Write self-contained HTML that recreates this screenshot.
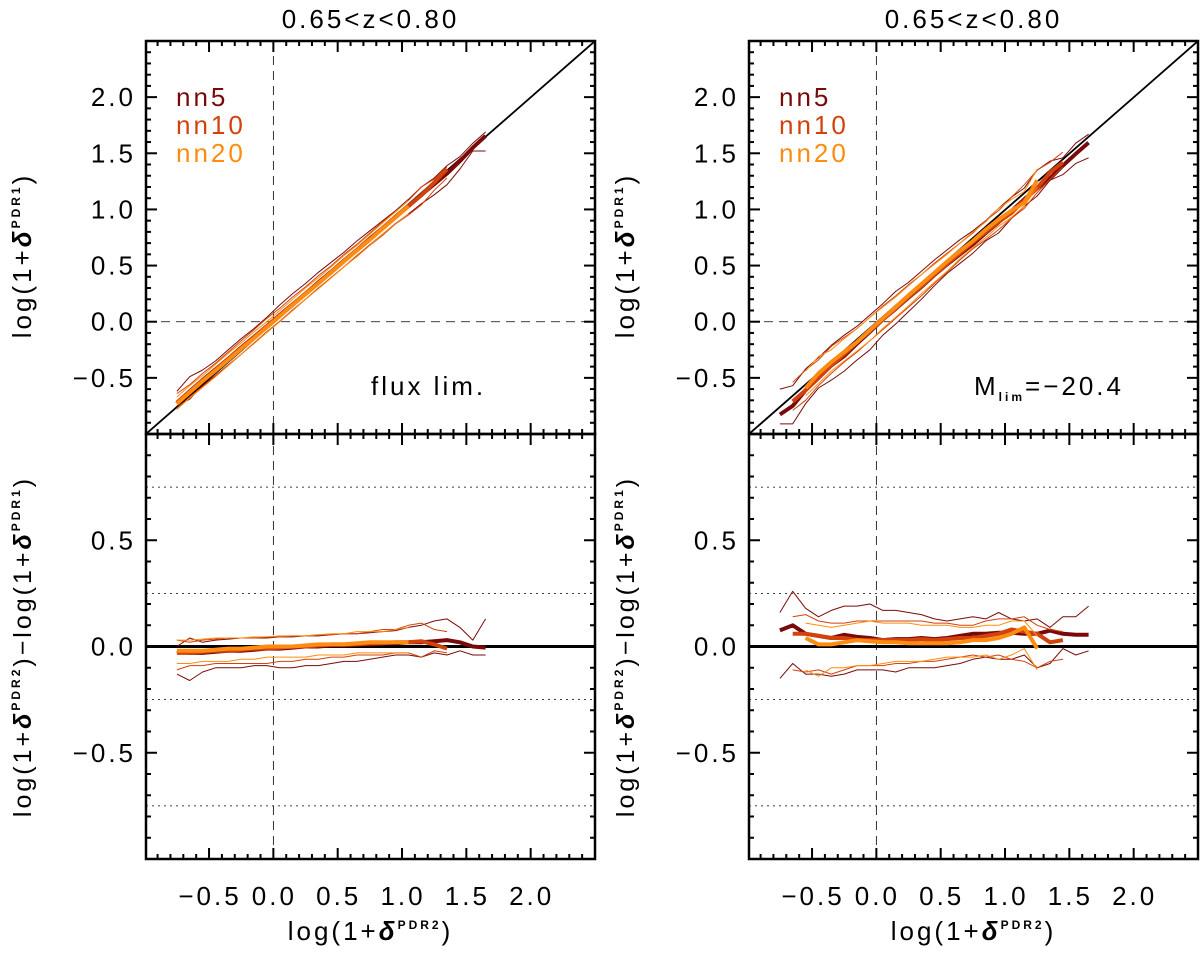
<!DOCTYPE html>
<html><head><meta charset="utf-8"><style>
body{margin:0;background:#fff}
svg{display:block;font-family:"Liberation Sans","DejaVu Sans",sans-serif}
text{letter-spacing:3px}
</style></head><body>
<svg id="c" width="1200" height="957" viewBox="0 0 1200 957" xmlns="http://www.w3.org/2000/svg"></svg>
<script>
// ---- data ----
const xStart = [-0.75, -0.75, -0.75];
const xStep = 0.1;
// Left panel (flux lim.) residuals: log(1+dPDR2) - log(1+dPDR1)
const L_nn5_mean = [-0.02,-0.03,-0.03,-0.025,-0.02,-0.02,-0.015,-0.01,-0.01,-0.005,0,0,0.005,0.005,0.01,0.01,0.015,0.015,0.02,0.02,0.025,0.03,0.02,0.0,-0.005];
const L_nn5_hi = [0.0,0.04,0.02,0.03,0.035,0.04,0.04,0.04,0.045,0.045,0.05,0.05,0.055,0.06,0.06,0.065,0.07,0.075,0.09,0.1,0.12,0.13,0.09,0.03,0.13];
const L_nn5_lo = [-0.13,-0.16,-0.12,-0.1,-0.1,-0.1,-0.09,-0.09,-0.1,-0.1,-0.09,-0.09,-0.08,-0.07,-0.07,-0.06,-0.05,-0.04,-0.04,-0.05,-0.03,-0.04,-0.02,-0.04,-0.04];
const L_nn10_mean = [-0.03,-0.03,-0.025,-0.02,-0.02,-0.015,-0.01,-0.01,-0.005,0,0,0.005,0.01,0.01,0.01,0.015,0.015,0.02,0.02,0.025,0.01,-0.01];
const L_nn10_hi = [0.03,0.02,0.03,0.035,0.04,0.04,0.04,0.045,0.045,0.05,0.05,0.055,0.055,0.06,0.06,0.07,0.08,0.08,0.1,0.11,0.08,0.07];
const L_nn10_lo = [-0.11,-0.09,-0.09,-0.08,-0.08,-0.08,-0.08,-0.08,-0.07,-0.07,-0.06,-0.06,-0.05,-0.05,-0.04,-0.04,-0.04,-0.03,-0.03,-0.05,-0.02,-0.03];
const L_nn20_mean = [-0.02,-0.02,-0.02,-0.015,-0.01,-0.01,-0.005,0,0,0,0.005,0.01,0.01,0.01,0.015,0.02,0.02,0.02,0.02];
const L_nn20_hi = [0.03,0.03,0.035,0.04,0.04,0.04,0.045,0.045,0.05,0.05,0.05,0.055,0.06,0.06,0.07,0.07,0.07,0.08,0.09];
const L_nn20_lo = [-0.08,-0.08,-0.07,-0.07,-0.07,-0.06,-0.06,-0.05,-0.05,-0.05,-0.05,-0.04,-0.04,-0.04,-0.03,-0.03,-0.03,-0.03,-0.03];
// Right panel (M_lim=-20.4)
const R_xStart = [-0.75, -0.65, -0.55];
const R_nn5_mean = [0.076,0.10,0.06,0.05,0.04,0.055,0.045,0.04,0.03,0.035,0.035,0.04,0.035,0.04,0.05,0.06,0.06,0.065,0.065,0.06,0.06,0.075,0.06,0.055,0.055];
const R_nn5_hi = [0.16,0.26,0.18,0.14,0.17,0.19,0.19,0.2,0.17,0.17,0.16,0.15,0.13,0.12,0.13,0.14,0.13,0.16,0.13,0.12,0.13,0.09,0.14,0.14,0.19];
const R_nn5_lo = [-0.15,-0.08,-0.13,-0.13,-0.14,-0.13,-0.11,-0.11,-0.11,-0.12,-0.1,-0.1,-0.1,-0.09,-0.08,-0.06,-0.05,-0.06,-0.06,-0.04,-0.1,-0.08,-0.01,-0.04,-0.02];
const R_nn10_mean = [0.06,0.06,0.05,0.04,0.04,0.03,0.03,0.03,0.03,0.03,0.035,0.03,0.035,0.04,0.04,0.05,0.06,0.08,0.07,0.06,0.02,0.03];
const R_nn10_hi = [0.14,0.15,0.12,0.11,0.11,0.12,0.12,0.12,0.12,0.12,0.12,0.11,0.11,0.1,0.1,0.12,0.13,0.13,0.14,0.1,0.08,0.07];
const R_nn10_lo = [-0.11,-0.12,-0.11,-0.13,-0.11,-0.09,-0.09,-0.09,-0.08,-0.08,-0.07,-0.07,-0.06,-0.05,-0.04,-0.05,-0.04,-0.06,-0.07,-0.1,-0.07,-0.06];
const R_nn20_mean = [0.04,0.01,0.01,0.02,0.03,0.025,0.02,0.02,0.015,0.015,0.015,0.015,0.02,0.03,0.03,0.04,0.06,0.09,-0.01];
const R_nn20_hi = [0.11,0.1,0.09,0.1,0.11,0.12,0.11,0.11,0.11,0.1,0.1,0.1,0.09,0.09,0.1,0.1,0.12,0.12,0.05];
const R_nn20_lo = [-0.11,-0.14,-0.1,-0.1,-0.09,-0.09,-0.08,-0.07,-0.07,-0.07,-0.06,-0.05,-0.05,-0.05,-0.04,-0.06,-0.04,-0.01,-0.11];
const seriesNames = ["nn5","nn10","nn20"];
const xTickLabels = ["\u22120.5","0.0","0.5","1.0","1.5","2.0"];
const xTickVals = [-0.5,0,0.5,1,1.5,2];
const topTickVals = [-0.5,0,0.5,1,1.5,2];
const topTickLabels = ["\u22120.5","0.0","0.5","1.0","1.5","2.0"];
const botTickVals = [-0.5,0,0.5];
const botTickLabels = ["\u22120.5","0.0","0.5"];
const dotLevels = [0.75,0.25,-0.25,-0.75];

// ---- layout ----
const svg = document.getElementById('c');
const NS = 'http://www.w3.org/2000/svg';
const colors = ["#7a0a0a","#d2420c","#ff8c10"];
function el(tag, attrs, parent){const e=document.createElementNS(NS,tag);for(const k in attrs)e.setAttribute(k,attrs[k]);(parent||svg).appendChild(e);return e;}
const X0=-0.99, X1=2.5, TY0=-1.0, TY1=2.5, BY0=-1.0, BY1=1.0;
const ptop=41, pmid=434, pbot=859;

function panel(px0, px1, side, data, label){
  const g = el('g',{});
  
  
  const sx = v => px0 + (v-X0)/(X1-X0)*(px1-px0);
  const sty = v => pmid - (v-TY0)/(TY1-TY0)*(pmid-ptop);
  const sby = v => pbot - (v-BY0)/(BY1-BY0)*(pbot-pmid);
  const cid = 'clip'+side;
  const cp = el('clipPath',{id:cid},g); el('rect',{x:px0,y:ptop,width:px1-px0,height:pbot-ptop},cp);
  const cg = el('g',{'clip-path':'url(#'+cid+')'},g);
  const v0 = el('line',{x1:sx(0),x2:sx(0),y1:ptop,y2:pbot,stroke:'#000','stroke-width':0.8,'stroke-dasharray':'9,6'},cg);
   
  const h0 = el('line',{x1:px0,x2:px1,y1:sty(0),y2:sty(0),stroke:'#000','stroke-width':0.8,'stroke-dasharray':'9,6'},cg);
   
  dotLevels.forEach(l=>{const d=el('line',{x1:px0,x2:px1,y1:sby(l),y2:sby(l),stroke:'#000','stroke-width':0.8,'stroke-dasharray':'2,4'},cg);
     });
  const diag = el('line',{x1:px0,y1:pmid,x2:px1,y2:ptop,stroke:'#000','stroke-width':1.8},cg);
   
  const zl = el('line',{x1:px0,x2:px1,y1:sby(0),y2:sby(0),stroke:'#000','stroke-width':3},cg);
   
  for(let s=0;s<3;s++){
    const d = data[s];
    ['hi','lo','mean'].forEach(k=>{
      const arr = d[k];
      const w = k==='mean'?4:1;
      let pt='', pb='';
      arr.forEach((r,i)=>{const x=d.x0+i*xStep; pt+=sx(x).toFixed(1)+','+sty(x-r).toFixed(1)+' '; pb+=sx(x).toFixed(1)+','+sby(r).toFixed(1)+' ';});
      const a=el('polyline',{points:pt,fill:'none',stroke:colors[s],'stroke-width':w,'stroke-linejoin':'round'},cg);
      
      
      const b=el('polyline',{points:pb,fill:'none',stroke:colors[s],'stroke-width':w,'stroke-linejoin':'round'},cg);
      
      
    });
  }
  [[ptop,pmid],[pmid,pbot]].forEach(([a,b])=>{const r=el('rect',{x:px0,y:a,width:px1-px0,height:b-a,fill:'none',stroke:'#000','stroke-width':2.5},g);
     });
  for(let k=-10;k<=25;k++){const v=k/10; if(v<=X0||v>=X1) continue; const maj=(k%5===0); const L=maj?11:5; const x=sx(v);
    [ptop,pmid,pbot].forEach(y=>{
      if(y!==pbot) el('line',{x1:x,x2:x,y1:y,y2:y+L,stroke:'#000','stroke-width':2},g);
      if(y!==ptop) el('line',{x1:x,x2:x,y1:y,y2:y-L,stroke:'#000','stroke-width':2},g);
    });}
  for(let k=-10;k<=25;k++){const v=k/10; if(v<=TY0||v>=TY1) continue; const maj=(k%5===0); const L=maj?11:5; const y=sty(v);
    el('line',{x1:px0,x2:px0+L,y1:y,y2:y,stroke:'#000','stroke-width':2},g); el('line',{x1:px1,x2:px1-L,y1:y,y2:y,stroke:'#000','stroke-width':2},g);}
  for(let k=-9;k<=9;k++){const v=k/10; const maj=(k%5===0); const L=maj?11:5; const y=sby(v);
    el('line',{x1:px0,x2:px0+L,y1:y,y2:y,stroke:'#000','stroke-width':2},g); el('line',{x1:px1,x2:px1-L,y1:y,y2:y,stroke:'#000','stroke-width':2},g);}
  topTickVals.forEach((v,i)=>{const t=el('text',{x:px0-10,y:sty(v)+9,'text-anchor':'end','font-size':26},g);t.textContent=topTickLabels[i];
     });
  botTickVals.forEach((v,i)=>{const t=el('text',{x:px0-10,y:sby(v)+9,'text-anchor':'end','font-size':26},g);t.textContent=botTickLabels[i];
     });
  xTickVals.forEach((v,i)=>{const t=el('text',{x:sx(v)+1,y:pbot+46,'text-anchor':'middle','font-size':26},g);t.textContent=xTickLabels[i];
     });
  const cx=(px0+px1)/2;
  const tt=el('text',{x:cx,y:28,'text-anchor':'middle','font-size':26},g); tt.textContent='0.65<z<0.80';
   
  const xl=el('text',{x:cx,y:940,'text-anchor':'middle','font-size':26},g);
  xl.innerHTML='log(1+<tspan font-style="italic" font-weight="bold">δ</tspan><tspan font-size="12" font-weight="bold" dy="-11">PDR2</tspan><tspan dy="11">)</tspan>';
   
  const ty1=el('text',{transform:`translate(${px0-115},${(ptop+pmid)/2+18}) rotate(-90)`,'text-anchor':'middle','font-size':26},g);
  ty1.innerHTML='log(1+<tspan font-style="italic" font-weight="bold">δ</tspan><tspan font-size="12" font-weight="bold" dy="-11">PDR1</tspan><tspan dy="11">)</tspan>';
   
  const ty2=el('text',{transform:`translate(${px0-115},${(pmid+pbot)/2}) rotate(-90)`,'text-anchor':'middle','font-size':25},g);
  ty2.innerHTML='log(1+<tspan font-style="italic" font-weight="bold">δ</tspan><tspan font-size="12" font-weight="bold" dy="-11">PDR2</tspan><tspan dy="11">)−log(1+</tspan><tspan font-style="italic" font-weight="bold">δ</tspan><tspan font-size="12" font-weight="bold" dy="-11">PDR1</tspan><tspan dy="11">)</tspan>';
   
  seriesNames.forEach((n,i)=>{const t=el('text',{x:px0+30,y:106+i*28,'font-size':26,fill:colors[i]},g);t.textContent=n;
     });
  const an=el('text',{x:px0+225,y:395,'font-size':26},g);
  an.innerHTML=label;
   
}
panel(146,595,'left',[
  {x0:xStart[0],mean:L_nn5_mean,hi:L_nn5_hi,lo:L_nn5_lo},
  {x0:xStart[1],mean:L_nn10_mean,hi:L_nn10_hi,lo:L_nn10_lo},
  {x0:xStart[2],mean:L_nn20_mean,hi:L_nn20_hi,lo:L_nn20_lo}],'flux  lim.');
panel(749,1198,'right',[
  {x0:R_xStart[0],mean:R_nn5_mean,hi:R_nn5_hi,lo:R_nn5_lo},
  {x0:R_xStart[1],mean:R_nn10_mean,hi:R_nn10_hi,lo:R_nn10_lo},
  {x0:R_xStart[2],mean:R_nn20_mean,hi:R_nn20_hi,lo:R_nn20_lo}],'M<tspan font-size="12" font-weight="bold" dy="6">lim</tspan><tspan dy="-6">=−20.4</tspan>');
</script>
</body></html>
